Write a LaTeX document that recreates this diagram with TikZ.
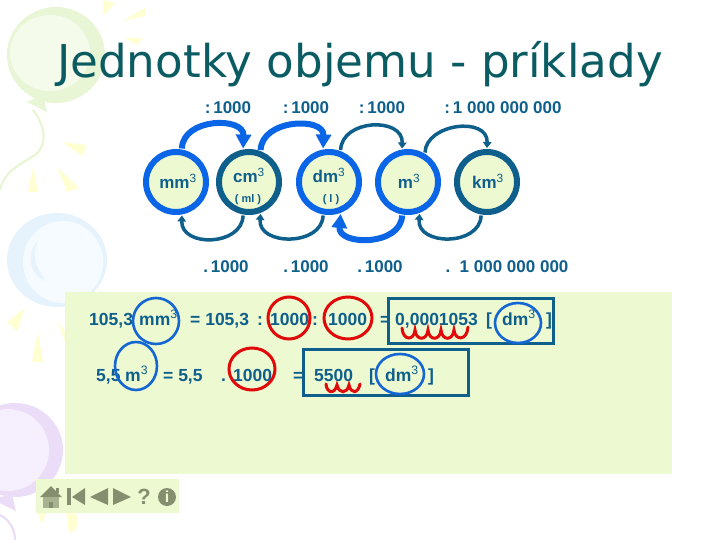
\documentclass[tikz,border=0pt]{standalone}
\usepackage{fontspec}
\setmainfont{Liberation Sans}
\newfontfamily\titlefont{DejaVu Sans}
\usetikzlibrary{arrows.meta}
\definecolor{teal1}{HTML}{0F5F8C}
\definecolor{blue1}{HTML}{0A66E6}
\definecolor{pale}{HTML}{EDF9D1}
\definecolor{titlec}{HTML}{0B5C62}
\definecolor{navc}{HTML}{858F70}
\definecolor{navl}{HTML}{A8B291}
\definecolor{redc}{HTML}{E00A0A}
\definecolor{ringb}{HTML}{1466D2}
\definecolor{gring}{HTML}{E9F6D6}
\definecolor{ginner}{HTML}{F5FBEB}
\definecolor{bring}{HTML}{E6F3FD}
\definecolor{binner}{HTML}{F6FBFF}
\definecolor{pring}{HTML}{EBDDF8}
\definecolor{pinner}{HTML}{F6EFFD}
\definecolor{rayc}{HTML}{FFFFD2}
\newcommand{\cub}{\textsuperscript{\mdseries 3}}
\tikzset{
 ringnode/.style={circle,fill=pale,minimum size=60pt,inner sep=0pt,line width=6pt,outer sep=4pt},
 txt/.style={text=teal1,font=\fontsize{17}{18}\selectfont\bfseries,inner sep=0pt},
 unit/.style={txt,anchor=base,font=\fontsize{17}{18}\selectfont\bfseries},
 small/.style={txt,font=\fontsize{11}{12}\selectfont\bfseries},
 rowt/.style={txt,anchor=base west,font=\fontsize{17.5}{18}\selectfont\bfseries},
 thicka/.style={draw=blue1,line width=6pt,-{Triangle[length=14pt,width=15pt]}},
 thina/.style={draw=teal1,line width=3.5pt,-{Triangle[length=6pt,width=8.5pt]}},
 redring/.style={draw=redc,line width=3pt},
 bluering/.style={draw=ringb,line width=2.6pt},
 answer/.style={draw=teal1,line width=3pt},
 squig/.style={draw=redc,line width=3pt,line cap=round},
 ray/.style={fill=rayc,draw=none},
 nav/.style={fill=navc,draw=none},
}
\begin{document}
\begin{tikzpicture}[x=1pt,y=-1pt]
\useasboundingbox (0,0) rectangle (720,540);
\fill[white] (0,0) rectangle (720,540);
% balloons
\fill[ray] (103,0)--(115,3)--(103,16)--cycle;
\fill[ray] (122,21)--(145,8)--(145,16)--cycle;
\fill[ray] (125,38)--(142,38)--(137,45)--cycle;
\fill[ray] (62,142)--(87,145)--(82,156)--cycle;
\fill[ray] (33,167)--(28,192)--(38,192)--cycle;
\fill[ray] (57,167)--(67,192)--(79,188)--cycle;
\fill[ray] (25,308)--(7,322)--(17,331)--cycle;
\fill[ray] (38,332)--(32,362)--(43,362)--cycle;
\fill[ray] (57,320)--(66,333)--(66,345)--cycle;
\fill[ray] (37,510)--(47,510)--(42,524)--cycle;
\fill[ray] (66,510)--(78,516)--(76,530)--(69,533)--cycle;
\fill[gring] (56,55) ellipse [x radius=49,y radius=48];
\fill[ginner] (50,53) ellipse [x radius=40,y radius=38];
\fill[gring] (27,102)--(43,95)--(47,112)--cycle;
\draw[gring,line width=2.2pt] (33,110) .. controls (45,125) and (48,145) .. (35,155) .. controls (20,165) and (5,170) .. (0,190);
\fill[bring] (57,260) ellipse [x radius=50,y radius=47];
\fill[binner] (63,262) ellipse [x radius=40,y radius=41];
\fill[bring] (38,240) .. controls (25,255) and (30,275) .. (46,281) .. controls (34,265) and (32,255) .. (38,240) -- cycle;
\fill[pring] (15,450) ellipse [x radius=48,y radius=47];
\fill[pinner] (8,450) ellipse [x radius=41,y radius=41];
\fill[pring] (0,497)--(12,495)--(16,511)--(0,503)--cycle;
\draw[pring,line width=2.2pt] (0,515) .. controls (10,520) and (15,530) .. (15,540);
% panels
\fill[pale] (65,292) rectangle (672,474);
\fill[pale] (36,479) rectangle (179,513);
% title
\node[anchor=base,text=titlec,font=\titlefont\fontsize{45.2}{48}\selectfont,inner sep=0pt] (title) at (360,78) {Jednotky objemu - príklady};
% rings
\node[ringnode,draw=blue1] (mm) at (176,182) {};
\node[ringnode,draw=teal1] (cm) at (249,182) {};
\node[ringnode,draw=blue1] (dm) at (329,182) {};
\node[ringnode,draw=blue1] (m) at (408,182) {};
\node[ringnode,draw=teal1] (km) at (487,182) {};
\node[unit] (tmm) at (178,189) {mm\cub};
\node[unit] (tcm) at (249,183) {cm\cub};
\node[small] (ml) at (248,200) {( ml )};
\node[unit] (tdm) at (329,183) {dm\cub};
\node[small] (l) at (331,200) {( l )};
\node[unit] (tm) at (409,189) {m\cub};
\node[unit] (tkm) at (488,189) {km\cub};
% arcs
\draw[thicka] (mm.80) .. controls +(1,-31) and +(1,-32) .. (cm.100);
\draw[thicka] (cm.70) .. controls +(1,-31) and +(1,-32) .. (dm.100);
\draw[thina] (dm.70) .. controls +(1,-31) and +(1,-32) .. (m.100);
\draw[thina] (m.60) .. controls +(1,-29) and +(1,-32) .. (km.90);
\draw[thina] (cm.260) .. controls +(-1,31) and +(-1,32) .. (mm.280);
\draw[thina] (dm.260) .. controls +(-1,31) and +(-3,32) .. (cm.290);
\draw[thicka] (m.260) .. controls +(-1,31) and +(-3,32) .. (dm.290);
\draw[thina] (km.260) .. controls +(-1,31) and +(-3,32) .. (m.290);
% labels
\node[txt] (d1) at (228,108) {:\,1000};
\node[txt] (d2) at (306,108) {:\,1000};
\node[txt] (d3) at (382,108) {:\,1000};
\node[txt] (d4) at (503,108) {:\,1 000 000 000};
\node[txt] (k1) at (226,267) {.\,1000};
\node[txt] (k2) at (306,267) {.\,1000};
\node[txt] (k3) at (380,267) {.\,1000};
\node[txt] (k4) at (507,267) {.\ \ 1 000 000 000};
% row 1
\node[rowt] (a1) at (89,325) {105,3};
\node[rowt] (a2) at (139,325) {mm\cub};
\node[rowt] (a3) at (190,325) {= 105,3};
\node[rowt] (a4) at (257,325) {:};
\node[rowt] (a5) at (270,325) {1000};
\node[rowt] (a6) at (312,325) {:};
\node[rowt] (a7) at (328,325) {1000};
\node[rowt] (a8) at (380,325) {=};
\node[rowt] (a9) at (395,325) {0,0001053};
\node[rowt] (a10) at (486,325) {[};
\node[rowt] (a11) at (502,325) {dm\cub};
\node[rowt] (a12) at (546,325) {]};
% row 2
\node[rowt] (b1) at (96,381) {5,5};
\node[rowt] (b2) at (125,381) {m\cub};
\node[rowt] (b3) at (163,381) {= 5,5};
\node[rowt] (b4) at (221,381) {.};
\node[rowt] (b5) at (233,381) {1000};
\node[rowt] (b6) at (293,381) {=};
\node[rowt] (b7) at (314,381) {5500};
\node[rowt] (b8) at (369,381) {[};
\node[rowt] (b9) at (385,381) {dm\cub};
\node[rowt] (b10) at (428,381) {]};
% marks
\draw[answer] (388,298) rectangle (553,343);
\draw[answer] (303,349) rectangle (468,395);
\draw[redring] (289,318) ellipse [x radius=21,y radius=21];
\draw[redring] (348,318) ellipse [x radius=24,y radius=21];
\draw[redring] (252,369) ellipse [x radius=23,y radius=21];
\draw[bluering] (156,321) ellipse [x radius=23,y radius=23];
\draw[bluering] (136,366) ellipse [x radius=21,y radius=24];
\draw[bluering] (518,323) ellipse [x radius=23,y radius=20];
\draw[bluering] (400,374) ellipse [x radius=24,y radius=20];
\draw[squig] (402,328) .. controls (403,341) and (414,341) .. (415,330) .. controls (416,341) and (427,341) .. (428,330) .. controls (429,341) and (440,341) .. (441,330) .. controls (442,341) and (453,341) .. (454,330) .. controls (455,341) and (467,341) .. (468,327);
\draw[squig] (326,384) .. controls (327,394) and (335,394) .. (337,385) .. controls (339,394) and (347,394) .. (349,385) .. controls (351,394) and (358,394) .. (360,384);
% navigation
\fill[navc] (51,486)--(62,497)--(40,497)--cycle;
\fill[navc] (56,488) rectangle (59,493);
\fill[navl] (43,497) rectangle (59,508);
\fill[navc] (49,502) rectangle (53,508);
\fill[nav] (67,488) rectangle (71,505);
\fill[nav] (85,488)--(72,497)--(85,505)--cycle;
\fill[nav] (108,488)--(90,497)--(108,505)--cycle;
\fill[nav] (113,488)--(131,497)--(113,505)--cycle;
\node[text=navc,font=\fontsize{22}{22}\selectfont\bfseries,inner sep=0pt] (help) at (144,497) {?};
\node[circle,fill=navc,minimum size=18pt,inner sep=0pt,text=pale,font=\fontsize{16}{16}\selectfont\bfseries] (info) at (167,497) {i};
\end{tikzpicture}
\end{document}
